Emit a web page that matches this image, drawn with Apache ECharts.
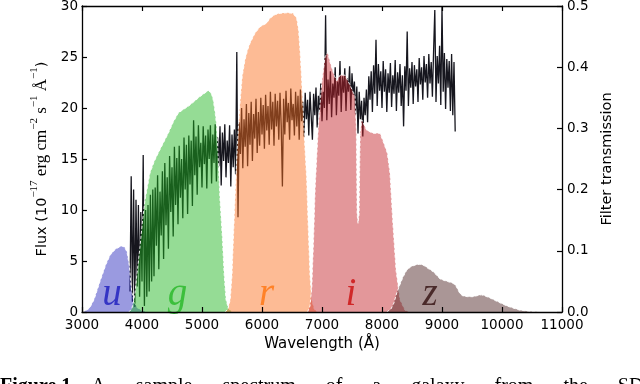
<!DOCTYPE html>
<html><head><meta charset="utf-8">
<script src="https://cdn.jsdelivr.net/npm/echarts@6/dist/echarts.min.js"></script>
<style>html,body{margin:0;padding:0;background:#fff}#c{width:640px;height:384px}</style>
</head><body><div id="c"></div>
<script>
// ---- data ----
const xTicks = [3000, 4000, 5000, 6000, 7000, 8000, 9000, 10000, 11000];
const fluxTicks = [0, 5, 10, 15, 20, 25, 30];
const transTicks = [0.0, 0.1, 0.2, 0.3, 0.4, 0.5];

// spectrum sampled every 20 Å starting at 3800 Å (rows of 200 Å)
const specStart = 3800, specStep = 20;
const fluxValues = [
/*3800*/ 2, 13.3, 1.0, 12.0, 0.5, 11, 2.5, 10.5, 1.5, 9.8,
/*4000*/ 3, 15.4, 0.6, 10, 1.5, 10.5, 2, 11.5, 3, 12,
/*4200*/ 3.5, 12.2, 6.5, 13.4, 4.2, 11.8, 7.5, 13.8, 5.2, 14.6,
/*4400*/ 8.5, 13.2, 6.2, 15.3, 9.8, 14.2, 7.4, 16.2, 10.5, 15.1,
/*4600*/ 8.6, 16.3, 11.2, 15, 9.2, 17.1, 12, 16.4, 9.6, 17.3,
/*4800*/ 12.5, 16.8, 10.4, 18.8, 13.4, 17.2, 11.5, 18.3, 14.2, 16.6,
/*5000*/ 12.2, 18.2, 14.5, 17.3, 12.1, 17.9, 15, 18.3, 12.6, 17.4,
/*5200*/ 14.6, 18.4, 12.8, 17.1, 14.3, 18.2, 12.4, 17.6, 14.8, 18.4,
/*5400*/ 13.2, 16.8, 14.6, 18.3, 12.3, 17.4, 14.2, 17.9, 13.5, 25.5,
/*5600*/ 9.3, 18.6, 15.5, 20, 14.1, 18.9, 16.2, 20.4, 14.3, 19.5,
/*5800*/ 16.4, 20.6, 14.8, 19.4, 17, 20.9, 15.6, 19.6, 16.3, 21,
/*6000*/ 17.4, 20.3, 16, 21.3, 17.8, 20.2, 16.4, 21.6, 17.9, 20.6,
/*6200*/ 16.3, 21.4, 18.2, 20.7, 16.9, 21.5, 18.3, 12.3, 20.9, 17.4,
/*6400*/ 21.7, 18.6, 20.5, 16.9, 21.9, 18.8, 20.4, 17.3, 21.6, 18.2,
/*6600*/ 21.2, 16.9, 21.8, 18.7, 20.6, 17.2, 21.5, 18.9, 20.8, 17.3,
/*6800*/ 21.6, 19.2, 16.9, 21.4, 19.3, 22, 18.1, 21.2, 19.6, 22.4,
/*7000*/ 18.7, 21.6, 20, 29.1, 18.8, 22.8, 20.4, 23.6, 19.1, 22.4,
/*7200*/ 21, 24, 19.3, 22.6, 21.2, 24.6, 19.6, 23.1, 21.5, 23.9,
/*7400*/ 19.7, 22.9, 21.6, 24.1, 19.8, 23.4, 21.3, 22.6, 19.4, 22.1,
/*7600*/ 17.5, 21.6, 18.9, 20.7, 17.2, 21, 19.3, 21.8, 18.6, 23.1,
/*7800*/ 20.8, 23.6, 19.6, 24.2, 21.4, 26.7, 20.2, 24.3, 21.7, 23.6,
/*8000*/ 20, 24.6, 21.6, 23.8, 19.6, 23.4, 21.5, 24.4, 20.1, 23.2,
/*8200*/ 21.4, 24.7, 19.7, 23.5, 21.5, 24.3, 20.2, 23.2, 18.2, 24.1,
/*8400*/ 21.7, 27.5, 20.2, 23.9, 22, 24.5, 20.4, 24.2, 22.1, 23.8,
/*8600*/ 20.6, 24.9, 22.3, 24, 20.8, 25.1, 22.5, 24.3, 21, 25.3,
/*8800*/ 22.4, 24.5, 21.1, 25.6, 29.6, 20.6, 25.1, 22.4, 26.1, 20.3,
/*9000*/ 29.9, 21.6, 25.4, 19.9, 24.8, 22, 24.6, 19.7, 25.3, 19.3,
/*9200*/ 24.5, 17.7
];

// filter transmission curves [wavelength, transmission]
const filterU = [[3000,0],[3080,0.003],[3130,0.007],[3200,0.02],[3300,0.05],[3400,0.078],[3470,0.093],[3560,0.103],[3660,0.108],[3710,0.106],[3750,0.098],[3790,0.075],[3810,0.05],[3830,0.033],[3870,0.016],[3920,0.007],[4000,0.002],[4100,0]];
const filterG = [[3780,0],[3830,0.005],[3860,0.018],[3883,0.031],[3920,0.065],[3967,0.107],[4010,0.15],[4050,0.183],[4133,0.227],[4200,0.245],[4272,0.26],[4350,0.275],[4438,0.292],[4520,0.31],[4605,0.325],[4690,0.331],[4772,0.336],[4870,0.344],[4967,0.352],[5050,0.358],[5110,0.362],[5160,0.356],[5188,0.346],[5220,0.325],[5245,0.303],[5272,0.248],[5300,0.183],[5338,0.123],[5370,0.06],[5400,0.02],[5440,0.006],[5500,0]];
const filterR = [[5380,0],[5430,0.004],[5470,0.02],[5500,0.06],[5522,0.118],[5550,0.185],[5578,0.248],[5605,0.3],[5633,0.341],[5670,0.385],[5717,0.412],[5760,0.428],[5800,0.439],[5880,0.455],[5967,0.466],[6078,0.472],[6133,0.48],[6220,0.486],[6300,0.488],[6420,0.489],[6517,0.488],[6578,0.48],[6610,0.46],[6633,0.428],[6655,0.39],[6678,0.346],[6717,0.265],[6745,0.216],[6770,0.14],[6800,0.06],[6830,0.02],[6870,0.005],[6920,0]];
const filterI = [[6760,0],[6800,0.01],[6830,0.04],[6860,0.12],[6885,0.2],[6938,0.303],[6995,0.374],[7050,0.417],[7095,0.424],[7130,0.41],[7160,0.4],[7210,0.385],[7245,0.378],[7300,0.387],[7383,0.387],[7467,0.371],[7550,0.352],[7572,0.3],[7585,0.16],[7600,0.145],[7618,0.16],[7635,0.29],[7662,0.314],[7745,0.297],[7850,0.292],[7967,0.292],[8022,0.278],[8088,0.26],[8133,0.227],[8178,0.15],[8233,0.069],[8300,0.02],[8383,0.003],[8450,0]];
const filterZ = [[8080,0],[8150,0.005],[8200,0.015],[8245,0.031],[8300,0.045],[8350,0.057],[8410,0.068],[8480,0.074],[8560,0.077],[8633,0.078],[8700,0.076],[8770,0.071],[8850,0.066],[8910,0.06],[8967,0.054],[9050,0.051],[9120,0.049],[9183,0.047],[9230,0.043],[9267,0.036],[9300,0.03],[9350,0.026],[9430,0.025],[9517,0.025],[9600,0.027],[9660,0.028],[9720,0.026],[9800,0.023],[9880,0.019],[9967,0.015],[10080,0.01],[10183,0.0065],[10300,0.003],[10467,0.001],[10650,0],[11000,0]];

const filterNames = ['u', 'g', 'r', 'i', 'z'];
const filterLabelX = [3500, 4590, 6078, 7480, 8800];
const filterLabelY = [1.7, 1.7, 1.7, 1.7, 1.7];

// ---- styles ----
const filterFill = ['rgb(40,40,190)', 'rgb(30,180,30)', 'rgb(250,110,30)', 'rgb(195,35,40)', 'rgb(74,32,32)'];
const filterText = ['#3434c4', '#3cbf3c', '#ff8228', '#d02828', '#4a2a2a'];
const filterCurves = [filterU, filterG, filterR, filterI, filterZ];

const specData = fluxValues.map((v, k) => [specStart + k * specStep, v]);

const sans = 'DejaVu Sans';
const serif = 'Liberation Serif';
const chart = echarts.init(document.getElementById('c'), null, {renderer: 'canvas'});

const series = [{
  type: 'line', name: 'spectrum', data: specData, xAxisIndex: 0, yAxisIndex: 0,
  showSymbol: false, symbol: 'none', z: 1,
  lineStyle: {color: '#16161e', width: 1.3}, animation: false
}];
filterCurves.forEach((d, k) => {
  series.push({
    type: 'line', name: filterNames[k], data: d, xAxisIndex: 0, yAxisIndex: 1,
    showSymbol: false, symbol: 'none', z: 2 + k,
    lineStyle: {color: 'rgba(255,255,255,0.9)', width: 1, type: [3, 2]},
    areaStyle: {color: filterFill[k], opacity: 0.47},
    animation: false
  });
});
series.push({
  type: 'scatter', name: 'labels', xAxisIndex: 0, yAxisIndex: 0, z: 10,
  symbolSize: 1, itemStyle: {color: 'rgba(0,0,0,0)'}, silent: true, animation: false,
  data: filterNames.map((n, k) => ({
    name: n, value: [filterLabelX[k], filterLabelY[k]],
    label: {color: filterText[k]}
  })),
  label: {show: true, position: 'inside', formatter: p => p.name, opacity: 1,
    fontFamily: serif, fontStyle: 'italic', fontSize: 39}
});

function mkLine() { return {show: true, onZero: false, lineStyle: {color: '#000', width: 1.3, opacity: 1}}; }
function mkTick() { return {show: true, inside: true, length: 5, lineStyle: {color: '#000', width: 1.2, opacity: 1}}; }

const supStyle = {fontFamily: serif, fontSize: 11, color: '#000', lineHeight: 21, verticalAlign: 'top'};
chart.setOption({
  animation: false,
  backgroundColor: '#fff',
  grid: {left: 82, right: 78, top: 6, bottom: 72, containLabel: false, outerBoundsMode: 'none'},
  xAxis: [{
    type: 'value', position: 'bottom', min: xTicks[0], max: xTicks[xTicks.length - 1], interval: 1000, z: 20,
    axisLine: mkLine(), axisTick: mkTick(), splitLine: {show: false},
    axisLabel: {color: '#000', fontFamily: sans, fontSize: 13.5, margin: 6, formatter: v => String(v)},
    name: 'Wavelength (Å)', nameLocation: 'middle', nameGap: 22,
    nameTextStyle: {color: '#000', fontFamily: sans, fontSize: 15}
  }, {
    type: 'value', position: 'top', min: xTicks[0], max: xTicks[xTicks.length - 1], interval: 1000, z: 20,
    axisLine: mkLine(), axisTick: mkTick(), splitLine: {show: false}, axisLabel: {show: false}
  }],
  yAxis: [{
    type: 'value', position: 'left', min: fluxTicks[0], max: fluxTicks[fluxTicks.length - 1], interval: 5, z: 20,
    axisLine: mkLine(), axisTick: mkTick(), splitLine: {show: false},
    axisLabel: {color: '#000', fontFamily: sans, fontSize: 13.5, margin: 4},
    name: '{a|Flux (10}{s|−17}{b| erg cm}{s|−2}{b| s}{s|−1}{b| Å}{s|−1}{a|)}',
    nameLocation: 'middle', nameGap: 25, nameRotate: 90,
    nameTextStyle: {color: '#000', fontFamily: sans, fontSize: 14.5,
      rich: {
        a: {fontFamily: sans, fontSize: 14.5, color: '#000', lineHeight: 21, verticalAlign: 'bottom'},
        b: {fontFamily: serif, fontSize: 17, color: '#000', lineHeight: 21, verticalAlign: 'bottom'},
        s: supStyle
      }}
  }, {
    type: 'value', position: 'right', min: transTicks[0], max: transTicks[transTicks.length - 1], interval: 0.1, z: 20,
    axisLine: mkLine(), axisTick: mkTick(), splitLine: {show: false},
    axisLabel: {color: '#000', fontFamily: sans, fontSize: 13.5, margin: 5, formatter: v => v.toFixed(1)},
    name: 'Filter transmission', nameLocation: 'middle', nameGap: 28, nameRotate: 90,
    nameTextStyle: {color: '#000', fontFamily: sans, fontSize: 14.5}
  }],
  series,
  graphic: [{
    type: 'text', left: 0, top: 377, silent: true,
    style: {
      text: '{b|Figure 1.}   A      sample      spectrum      of      a      galaxy      from      the      SDSS',
      fill: '#000', font: '20px "Liberation Serif"',
      rich: {b: {fontWeight: 'bold', fontFamily: serif, fontSize: 20, fill: '#000'}}
    }
  }]
});
</script>
</body></html>
